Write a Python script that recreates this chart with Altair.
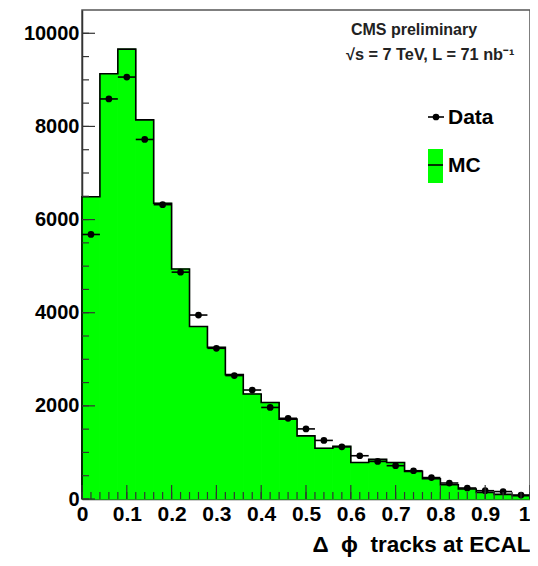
import altair as alt
import pandas as pd

# ---- data ----
bin_lo = [round(0.04 * i, 2) for i in range(25)]
bin_width = 0.04
mc_counts = [6490, 9130, 9660, 8140, 6350, 4940, 3704, 3255, 2670, 2255,
             2073, 1715, 1355, 1090, 1130, 785, 850, 785, 593, 436,
             307, 215, 142, 100, 71]
data_counts = [5680, 8590, 9060, 7720, 6320, 4871, 3950, 3236, 2650, 2340,
               1966, 1733, 1505, 1258, 1120, 929, 807, 715, 607, 460,
               343, 236, 178, 160, 86]

x_major = [0, 0.1, 0.2, 0.3, 0.4, 0.5, 0.6, 0.7, 0.8, 0.9, 1.0]
x_minor = [round(0.02 * i, 2) for i in range(51)]
y_major = [0, 2000, 4000, 6000, 8000, 10000]
y_minor = [500 * i for i in range(21)]

W, H = 448, 489
FONT = "Liberation Sans"
GREEN = "#00ff00"
NB = "\u00a0"

hist = pd.DataFrame({
    "lo": bin_lo,
    "hi": [round(b + bin_width, 2) for b in bin_lo],
    "mid": [round(b + bin_width / 2, 2) for b in bin_lo],
    "mc": mc_counts,
    "data": data_counts,
})

step_x = [0.0] + bin_lo + [1.0, 1.0]
step_y = [0] + mc_counts + [mc_counts[-1], 0]
step = pd.DataFrame({"x": step_x, "y": step_y, "i": list(range(len(step_x)))})

xs = alt.Scale(domain=[0, 1], nice=False, zero=False)
ys = alt.Scale(domain=[0, 10500], nice=False)

x_axis = alt.Axis(values=x_major, format="~g", ticks=False,
                  labelFont=FONT, labelFontWeight="bold", labelFontSize=21,
                  labelColor="black", labelPadding=4, labelFlush=False,
                  labelOverlap=False, grid=False, domainColor="#333",
                  domainWidth=1.5,
                  labelAlign={"condition": {"test": "datum.value >= 1", "value": "right"},
                              "value": "center"},
                  title="Δ" + NB * 2 + "ϕ" + NB * 2 + "tracks at ECAL", titleFont=FONT,
                  titleFontWeight="bold", titleFontSize=22.5,
                  titleColor="black", titleAnchor="end", titlePadding=9)
y_axis = alt.Axis(values=y_major, format="d", ticks=False, labelFont=FONT,
                  labelFontWeight="bold", labelFontSize=20,
                  labelColor="black", labelPadding=3, grid=False,
                  domainColor="#333", domainWidth=1.5, title=None,
                  labelFlush=False)


def X(field):
    return alt.X(field, scale=xs, axis=x_axis)


def Y(field):
    return alt.Y(field, scale=ys, axis=y_axis)


base = alt.Chart(hist)

bars = base.mark_rect(color=GREEN, stroke=GREEN, strokeWidth=1).encode(
    x=X("lo:Q"), x2="hi:Q", y=Y("mc:Q"), y2=alt.datum(0),
)

outline = alt.Chart(step).mark_line(interpolate="step-after", color="black",
                                    strokeWidth=1.6).encode(
    x=X("x:Q"), y=Y("y:Q"), order="i:Q",
)

errx = base.mark_rule(color="black", strokeWidth=1.6).encode(
    x=X("lo:Q"), x2="hi:Q", y=Y("data:Q"),
)

points = base.mark_point(filled=True, color="black", size=45, opacity=1,
                         shape="circle").encode(x=X("mid:Q"), y=Y("data:Q"))

# inward ticks
tick_style = dict(color="#333", strokeWidth=1.2)
xt_major = alt.Chart(pd.DataFrame({"v": x_major})).mark_rule(**tick_style).encode(
    x=X("v:Q"), y=alt.value(H), y2=alt.value(H - 14))
xt_minor = alt.Chart(pd.DataFrame({"v": x_minor})).mark_rule(**tick_style).encode(
    x=X("v:Q"), y=alt.value(H), y2=alt.value(H - 7))
yt_major = alt.Chart(pd.DataFrame({"v": y_major})).mark_rule(**tick_style).encode(
    y=Y("v:Q"), x=alt.value(0), x2=alt.value(13))
yt_minor = alt.Chart(pd.DataFrame({"v": y_minor})).mark_rule(**tick_style).encode(
    y=Y("v:Q"), x=alt.value(0), x2=alt.value(7))

# annotation text
cms = alt.Chart(pd.DataFrame({"t": ["CMS preliminary"]})).mark_text(
    font=FONT, fontWeight="bold", fontSize=16, color="#222", align="center",
    baseline="alphabetic").encode(text="t:N", x=alt.value(332), y=alt.value(25))
lumi = alt.Chart(pd.DataFrame({"t": ["√s = 7 TeV, L = 71 nb⁻¹"]})).mark_text(
    font=FONT, fontWeight="bold", fontSize=16.3, color="#222", align="left",
    baseline="alphabetic").encode(text="t:N", x=alt.value(264), y=alt.value(50))

# legend
leg_line = alt.Chart(pd.DataFrame({"k": ["Data"]})).mark_rule(
    color="black", strokeWidth=1.6).encode(
    x=alt.value(346), x2=alt.value(362), y=alt.value(107))
leg_pt = alt.Chart(pd.DataFrame({"k": ["Data"]})).mark_point(
    filled=True, color="black", size=45, opacity=1, shape="circle").encode(
    x=alt.value(354), y=alt.value(107))
leg_box = alt.Chart(pd.DataFrame({"k": ["MC"]})).mark_rect(
    color=GREEN).encode(x=alt.value(346), x2=alt.value(361),
                        y=alt.value(139), y2=alt.value(173))
leg_mcline = alt.Chart(pd.DataFrame({"k": ["MC"]})).mark_rule(
    color="black", strokeWidth=1.6).encode(
    x=alt.value(346), x2=alt.value(361), y=alt.value(155))
leg_data_txt = alt.Chart(pd.DataFrame({"t": ["Data"]})).mark_text(
    font=FONT, fontWeight="bold", fontSize=21, color="black", align="left",
    baseline="middle").encode(text="t:N", x=alt.value(366), y=alt.value(108))
leg_mc_txt = alt.Chart(pd.DataFrame({"t": ["MC"]})).mark_text(
    font=FONT, fontWeight="bold", fontSize=21, color="black", align="left",
    baseline="middle").encode(text="t:N", x=alt.value(366), y=alt.value(156))

chart = alt.layer(
    bars, outline, errx, points,
    xt_major, xt_minor, yt_major, yt_minor,
    cms, lumi, leg_box, leg_mcline, leg_line, leg_pt, leg_data_txt, leg_mc_txt,
).properties(
    width=W, height=H,
    padding={"left": 74, "top": 2, "right": 0, "bottom": 59},
    autosize=alt.AutoSizeParams(type="none"),
    background="white",
).configure_view(stroke="#555", strokeWidth=1.5)

chart.save("out.html", embed_options={"renderer": "svg", "actions": False})
